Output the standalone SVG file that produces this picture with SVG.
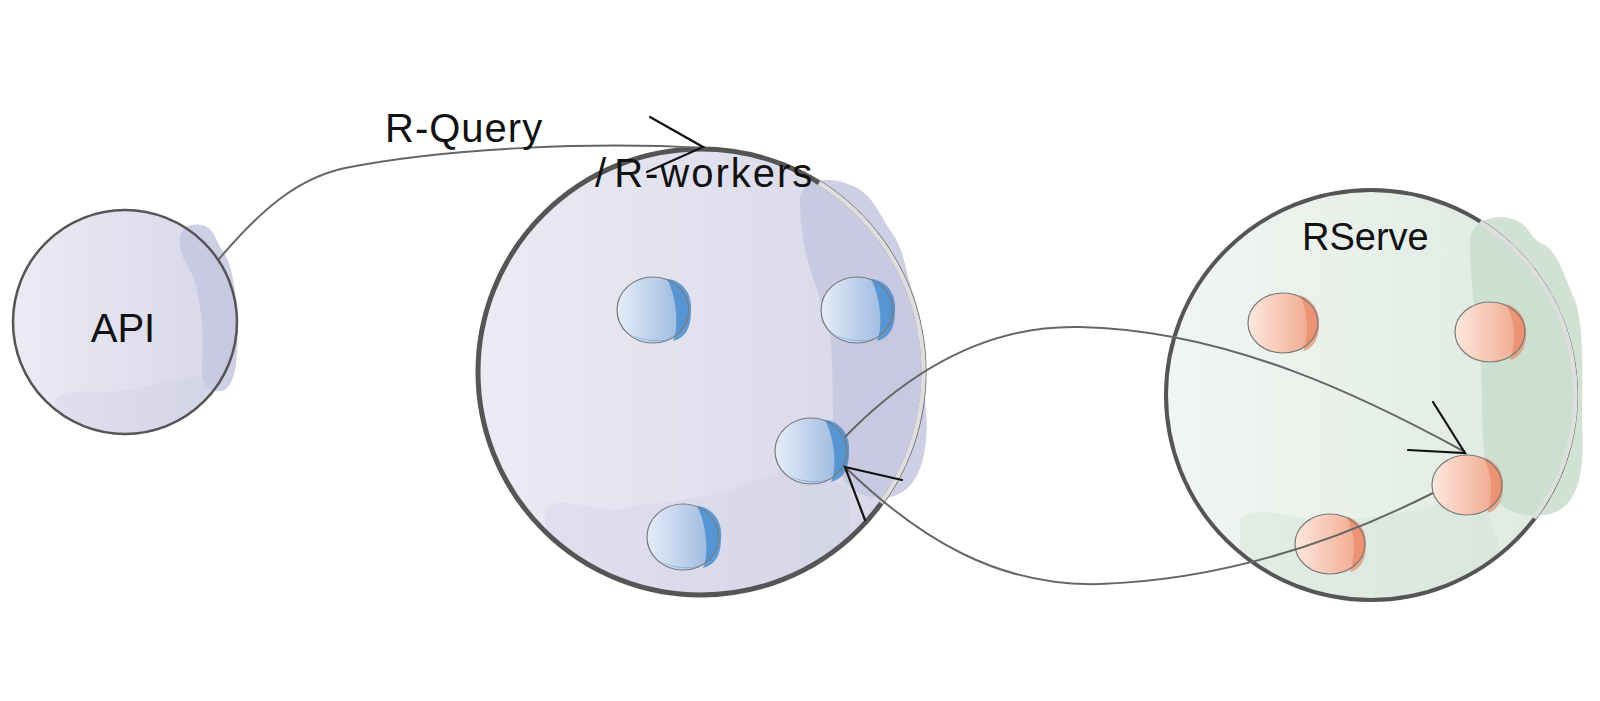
<svg xmlns="http://www.w3.org/2000/svg" width="1600" height="701" viewBox="0 0 1600 701">
<style>
.lbl{font-family:"Liberation Sans","DejaVu Sans",sans-serif;font-size:40px;fill:#111;}
.conn{fill:none;stroke:#666;stroke-width:2;}
.head{fill:none;stroke:#111;stroke-width:2.2;stroke-linecap:round;}
.edge{fill:none;stroke:#555;}
.hl{fill:none;stroke:#dedede;stroke-width:4.5;}
</style>
<defs>
<linearGradient id="gPurple" x1="0" y1="0" x2="1" y2="0">
<stop offset="0" stop-color="#ebebf4"/><stop offset="1" stop-color="#d6d6e9"/>
</linearGradient>
<linearGradient id="gGreen" x1="0" y1="0" x2="1" y2="0">
<stop offset="0" stop-color="#f1f6f2"/><stop offset="1" stop-color="#dde9e0"/>
</linearGradient>
<linearGradient id="gBlue" x1="0" y1="0" x2="1" y2="0">
<stop offset="0" stop-color="#e6edf8"/><stop offset="1" stop-color="#93b3de"/>
</linearGradient>
<linearGradient id="gOrange" x1="0" y1="0" x2="1" y2="0">
<stop offset="0" stop-color="#fde8de"/><stop offset="1" stop-color="#f0a286"/>
</linearGradient>
<g id="bnode">
<ellipse cx="0" cy="0" rx="36" ry="33" fill="url(#gBlue)"/>
<path d="M14,-31 C30,-30 40,-15 38,2 C38,18 32,28 20,31 C26,18 24,-12 14,-31 Z" fill="#4a8ed0" opacity="0.85"/>
<path d="M-26,22 C-15,30 10,34 24,26 C14,33 -10,34 -26,22 Z" fill="#6a9fd8" opacity="0.7"/>
<ellipse cx="0" cy="0" rx="36" ry="33" fill="none" stroke="#7a7a7a" stroke-width="1.2"/>
</g>
<g id="onode">
<ellipse cx="0" cy="0" rx="35" ry="30" fill="url(#gOrange)"/>
<path d="M16,-28 C30,-24 37,-12 36,2 C36,16 30,26 20,28 C25,16 27,-10 16,-28 Z" fill="#e98a68" opacity="0.7"/>
<ellipse cx="0" cy="0" rx="35" ry="30" fill="none" stroke="#7a7a7a" stroke-width="1.2"/>
</g>
<clipPath id="cWork"><circle cx="701" cy="372" r="223"/></clipPath>
<clipPath id="cServe"><circle cx="1371" cy="395" r="205"/></clipPath>
<clipPath id="cApi"><circle cx="125" cy="322" r="112"/></clipPath>
</defs>

<g id="api">
<circle cx="125" cy="322" r="112" fill="url(#gPurple)"/>
<path d="M180,240 C180,225 195,222 205,226 C215,230 215,240 222,250 C232,262 236,290 237,320 C238,350 238,380 225,390 C210,395 200,385 202,365 C205,330 200,290 190,270 C182,258 180,250 180,240 Z" fill="#c6c6df" opacity="0.85"/>
<path d="M55,400 C70,385 100,395 130,390 C160,385 190,370 215,380 L215,440 L55,440 Z" fill="#cfcfe4" opacity="0.35" clip-path="url(#cApi)"/>
<circle class="edge" cx="125" cy="322" r="112" stroke-width="2.5"/>
<text class="lbl" x="123" y="342" text-anchor="middle">API</text>
</g>

<g id="rworkers">
<circle cx="701" cy="372" r="223" fill="url(#gPurple)"/>
<path d="M545,510 C560,490 600,520 640,505 C700,500 740,490 780,470 C800,460 830,480 850,490 L850,600 L545,600 Z" fill="#cfcfe4" opacity="0.35" clip-path="url(#cWork)"/>
<path d="M800,200 C800,180 830,175 850,185 C870,190 880,215 890,230 C905,250 905,270 912,290 C925,320 918,360 925,400 C930,440 925,490 890,497 C870,500 850,495 838,470 C830,430 835,380 830,330 C820,290 800,260 800,200 Z" fill="#c6c6df" opacity="0.85"/>
<circle class="edge" cx="701" cy="372" r="223" stroke-width="5"/>
<path class="hl" d="M819,183 A223,223 0 0 1 881,503"/>
<text class="lbl" x="595" y="187">/<tspan dx="8" letter-spacing="2">R-workers</tspan></text>
</g>

<g id="rserve">
<circle cx="1371" cy="395" r="205" fill="url(#gGreen)"/>
<path d="M1240,520 C1260,500 1300,525 1340,520 C1400,515 1440,505 1480,495 L1520,600 L1240,600 Z" fill="#d0e2d5" opacity="0.4" clip-path="url(#cServe)"/>
<path d="M1470,240 C1470,220 1500,212 1515,220 C1530,225 1530,240 1545,245 C1560,255 1565,280 1575,300 C1585,330 1582,380 1582,420 C1585,470 1580,510 1545,515 C1520,518 1500,510 1490,490 C1478,440 1485,380 1478,330 C1472,290 1470,270 1470,240 Z" fill="#c9ddce" opacity="0.85"/>
<circle class="edge" cx="1371" cy="395" r="205" stroke-width="4"/>
<path class="hl" d="M1480,222 A204,204 0 0 1 1534,518"/>
<text class="lbl" x="1302" y="250" style="font-size:38px">RServe</text>
</g>

<g id="worker1"><use href="#bnode" transform="translate(653,310)"/></g>
<g id="worker2"><use href="#bnode" transform="translate(857,310)"/></g>
<g id="worker3"><use href="#bnode" transform="translate(811,451)"/></g>
<g id="worker4"><use href="#bnode" transform="translate(683,537)"/></g>

<g id="serve1"><use href="#onode" transform="translate(1283,323)"/></g>
<g id="serve2"><use href="#onode" transform="translate(1490,332)"/></g>
<g id="serve3"><use href="#onode" transform="translate(1467,485)"/></g>
<g id="serve4"><use href="#onode" transform="translate(1330,544)"/></g>

<g id="connectors">
<path class="conn" d="M219,259 C265,205 300,178 345,168 C450,147 600,142 703,148"/>
<path class="head" d="M650,117 L703,147 L647,172"/>
<text class="lbl" x="385" y="142" letter-spacing="1">R-Query</text>
<path class="conn" d="M845,437 C920,360 1000,325 1080,327 C1230,330 1370,400 1465,452"/>
<path class="head" d="M1433,402 L1465,453 L1408,450"/>
<path class="conn" d="M1433,493 C1330,545 1220,580 1100,584 C1000,587 920,540 845,467"/>
<path class="head" d="M902,480 L845,467 L865,520"/>
</g>
</svg>
